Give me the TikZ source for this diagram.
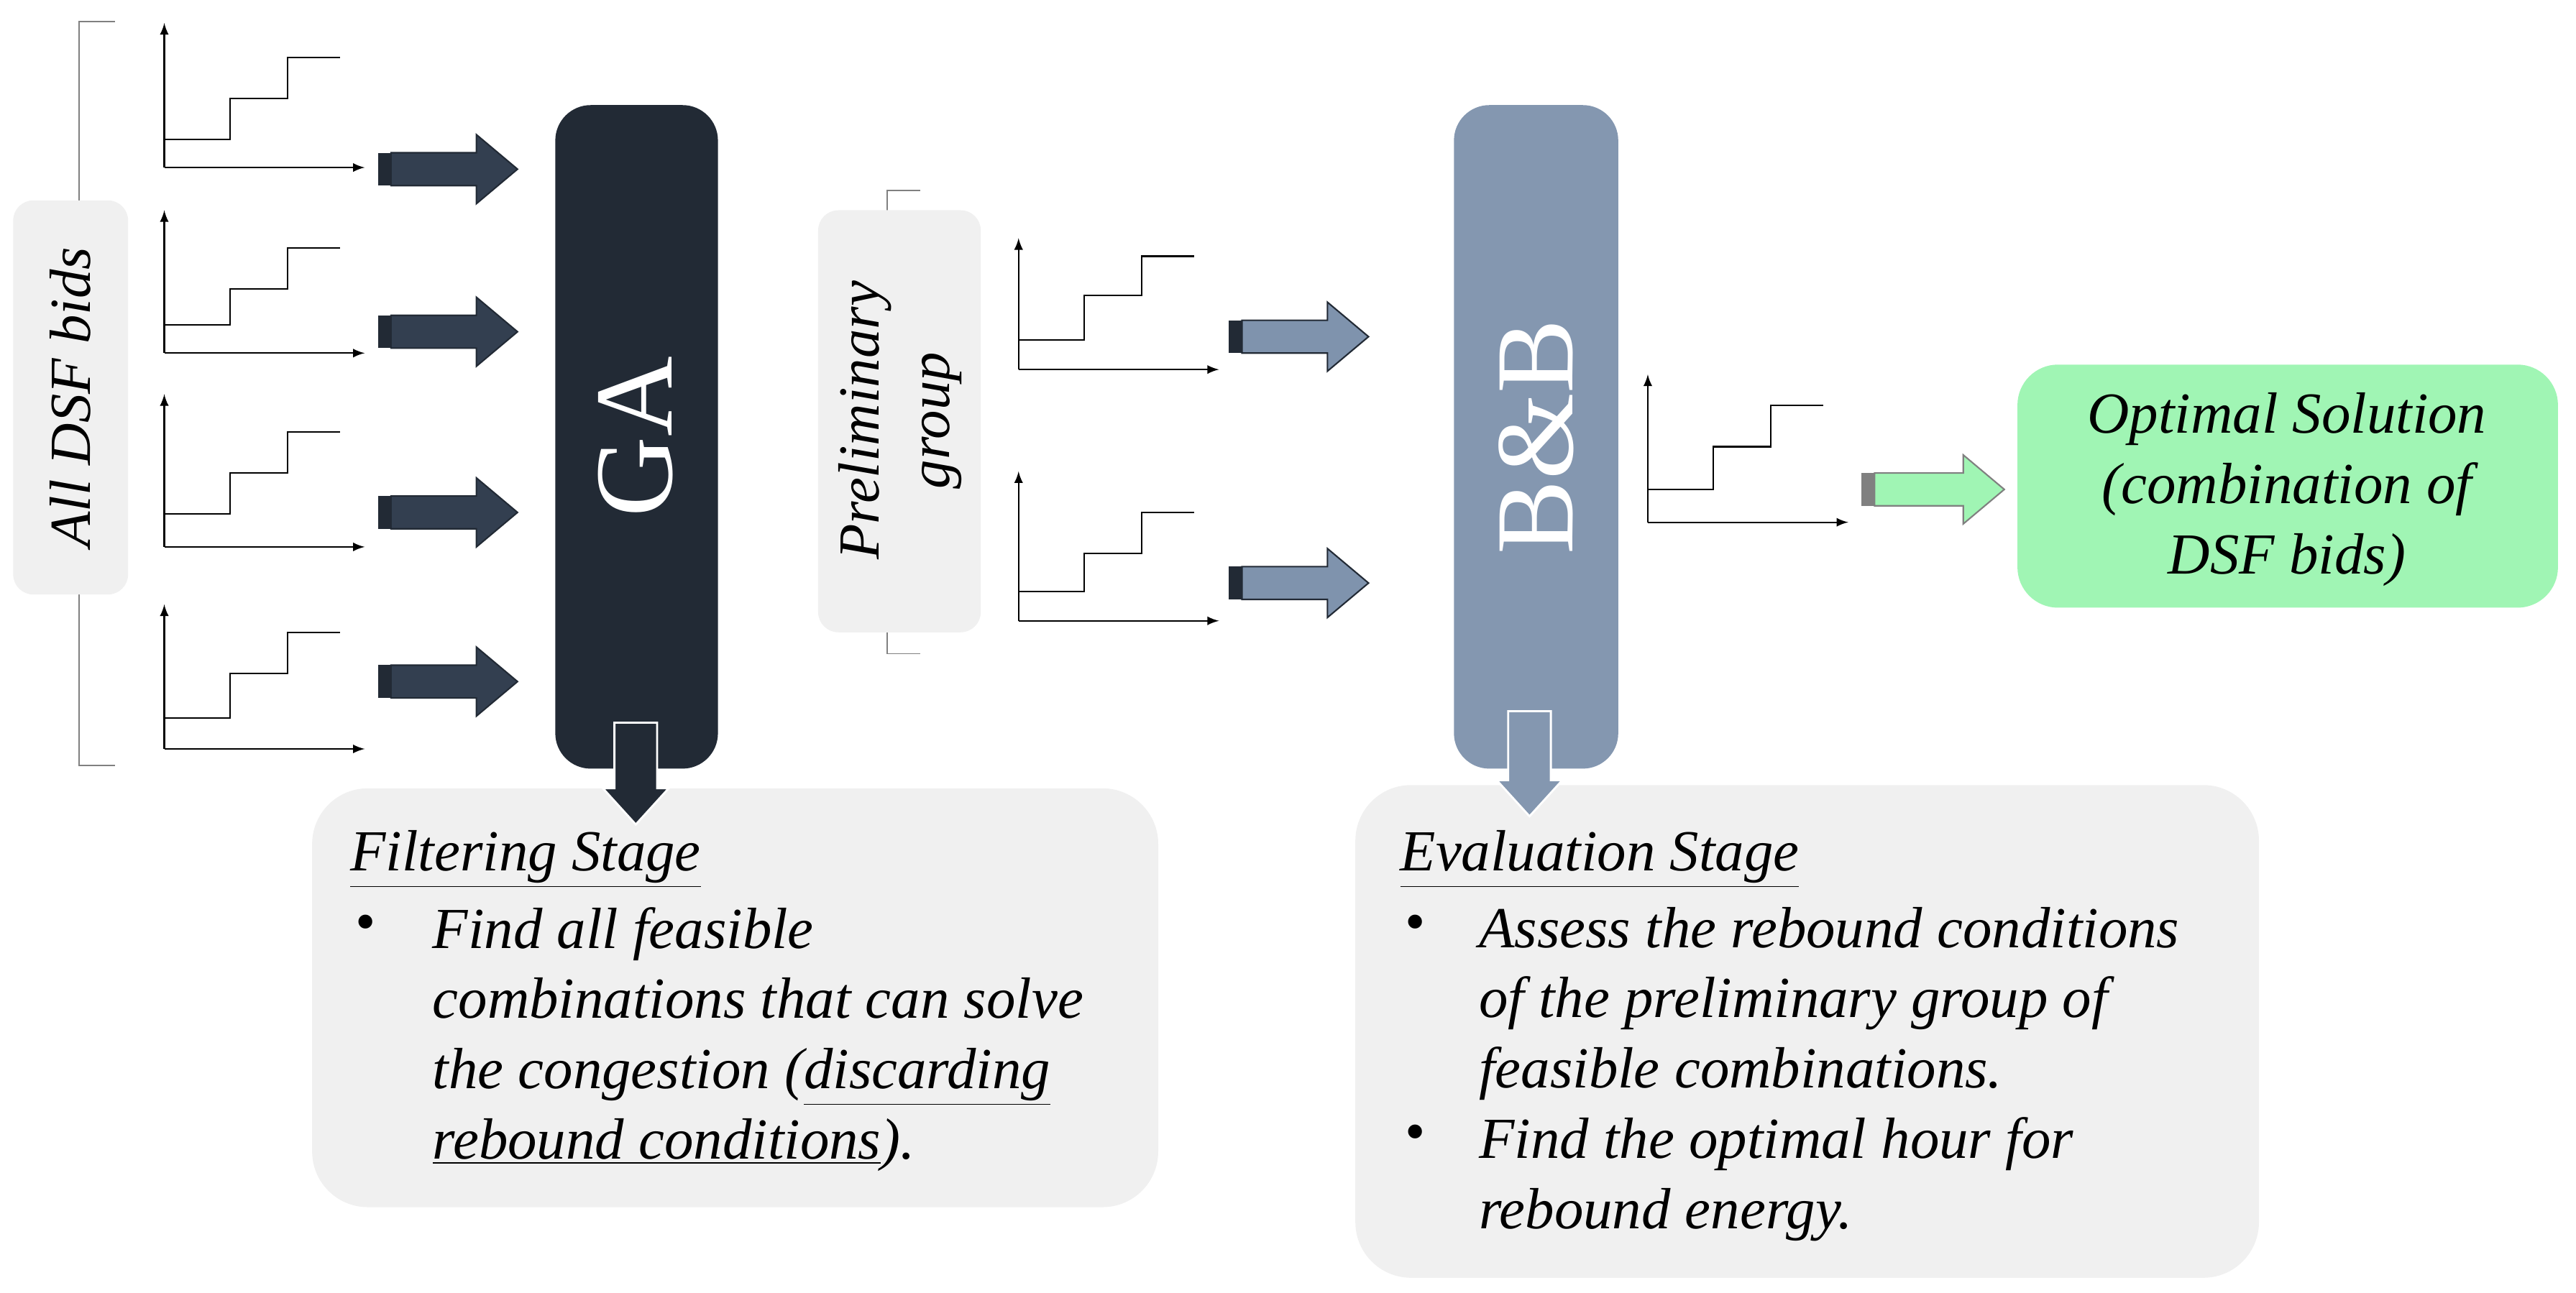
\documentclass[tikz,border=0pt]{standalone}
\usepackage{fontspec}
\setmainfont{Liberation Serif}
\definecolor{gadark}{HTML}{222A35}
\definecolor{arrdark}{HTML}{333F50}
\definecolor{bbblue}{HTML}{8497B0}
\definecolor{arrblue}{HTML}{7F93AD}
\definecolor{optgreen}{HTML}{A0F5B4}
\definecolor{stagegray}{HTML}{F0F0F0}
\begin{document}
\begin{tikzpicture}[x=0.02285cm,y=-0.02285cm,
  ax/.style={-latex,line width=0.6pt},
  st/.style={line width=0.6pt},
  lbl/.style={font=\fontsize{23}{27.8}\selectfont\itshape},
  stage/.style={rounded corners=22pt,fill=stagegray},
]
\useasboundingbox (0,0) rectangle (1568,787);
\newcommand\stairchart[6]{%
  \draw[ax] (#1,#3) -- (#1,#2);
  \draw[ax] (#1,#3) -- ({#1+122},#3);
  \draw[st] (#1,#4) -- ({#1+40},#4) -- ({#1+40},#5) -- ({#1+75},#5) -- ({#1+75},#6) -- ({#1+107},#6);}
\newcommand\blockarrow[5]{%
  \fill[#5] (#1,{#3-10}) rectangle ({#1+8},{#3+10});
  \filldraw[fill=#4,draw=#5,line width=0.6pt] ({#1+8},{#3-10}) -- ({#2-25},{#3-10}) -- ({#2-25},{#3-21}) -- (#2,#3) -- ({#2-25},{#3+21}) -- ({#2-25},{#3+10}) -- ({#1+8},{#3+10}) -- cycle;}
\newcommand\myDownArrow[4]{%
  \filldraw[fill=#4,draw=white,line width=0.8pt] ({#1-13},#2) -- ({#1+13},#2) -- ({#1+13},{#3-22}) -- ({#1+20},{#3-22}) -- (#1,#3) -- ({#1-20},{#3-22}) -- ({#1-13},{#3-22}) -- cycle;}
% left bracket
\draw[line width=0.5pt,gray] (70,13) -- (48,13) -- (48,466) -- (70,466);
\fill[stagegray,rounded corners=8pt] (8,122) rectangle (78,362);
\node[lbl,rotate=90] (dsflbl) at (43,242) {All DSF bids};
% charts
\stairchart{100}{14}{102}{85}{60}{35}
\stairchart{100}{128}{215}{198}{176}{151}
\stairchart{100}{240}{333}{313}{288}{263}
\stairchart{100}{368}{456}{437}{410}{385}
% arrows to GA
\blockarrow{230}{315}{103}{arrdark}{gadark}
\blockarrow{230}{315}{202}{arrdark}{gadark}
\blockarrow{230}{315}{312}{arrdark}{gadark}
\blockarrow{230}{315}{415}{arrdark}{gadark}
% stage boxes
\fill[stage] (190,480) rectangle (705,735);
\fill[stage] (825,478) rectangle (1375,778);
% GA
\fill[gadark,rounded corners=14pt] (338,64) rectangle (437,468);
\node[rotate=90,text=white,font=\fontsize{44}{50}\selectfont] (ga) at (387,266) {GA};
\myDownArrow{387}{440}{502}{gadark}
% preliminary group
\draw[line width=0.5pt,gray] (560,116) -- (540,116) -- (540,398) -- (560,398);
\fill[stagegray,rounded corners=8pt] (498,128) rectangle (597,385);
\node[lbl,rotate=90,align=center] (pg) at (548,256) {Preliminary\\group};
\stairchart{620}{145}{225}{207}{180}{156}
\stairchart{620}{287}{378}{360}{337}{312}
\blockarrow{748}{833}{205}{arrblue}{gadark}
\blockarrow{748}{833}{355}{arrblue}{gadark}
% B&B
\fill[bbblue,rounded corners=14pt] (885,64) rectangle (985,468);
\node[rotate=90,text=white,font=\fontsize{44}{50}\selectfont] (bb) at (935,266) {B\&B};
\myDownArrow{931}{433}{497}{bbblue}
\stairchart{1003}{228}{318}{298}{272}{247}
\blockarrow{1133}{1220}{298}{optgreen}{gray}
% optimal solution
\fill[optgreen,rounded corners=16pt] (1228,222) rectangle (1557,370);
\node[lbl,align=center] (opt) at (1392,298) {Optimal Solution\\(combination of\\DSF bids)};
% filtering text
\node[lbl,anchor=base west,inner sep=0pt] (ft) at (213,530) {\underline{Filtering Stage}};
\node[lbl,anchor=base west,inner sep=0pt] (fb) at (216,573) {\upshape\textbullet};
\node[lbl,anchor=north west,inner sep=0pt,align=left] (fx) at (263,552) {Find all feasible\\combinations that can solve\\the congestion (\underline{discarding}\\\underline{rebound conditions}).};
% evaluation text
\node[lbl,anchor=base west,inner sep=0pt] (et) at (852,530) {\underline{Evaluation Stage}};
\node[lbl,anchor=base west,inner sep=0pt] (eb1) at (855,573) {\upshape\textbullet};
\node[lbl,anchor=north west,inner sep=0pt,align=left] (ex1) at (900,552) {Assess the rebound conditions\\of the preliminary group of\\feasible combinations.};
\node[lbl,anchor=base west,inner sep=0pt] (eb2) at (855,701) {\upshape\textbullet};
\node[lbl,anchor=north west,inner sep=0pt,align=left] (ex2) at (900,680) {Find the optimal hour for\\rebound energy.};
\end{tikzpicture}
\end{document}
